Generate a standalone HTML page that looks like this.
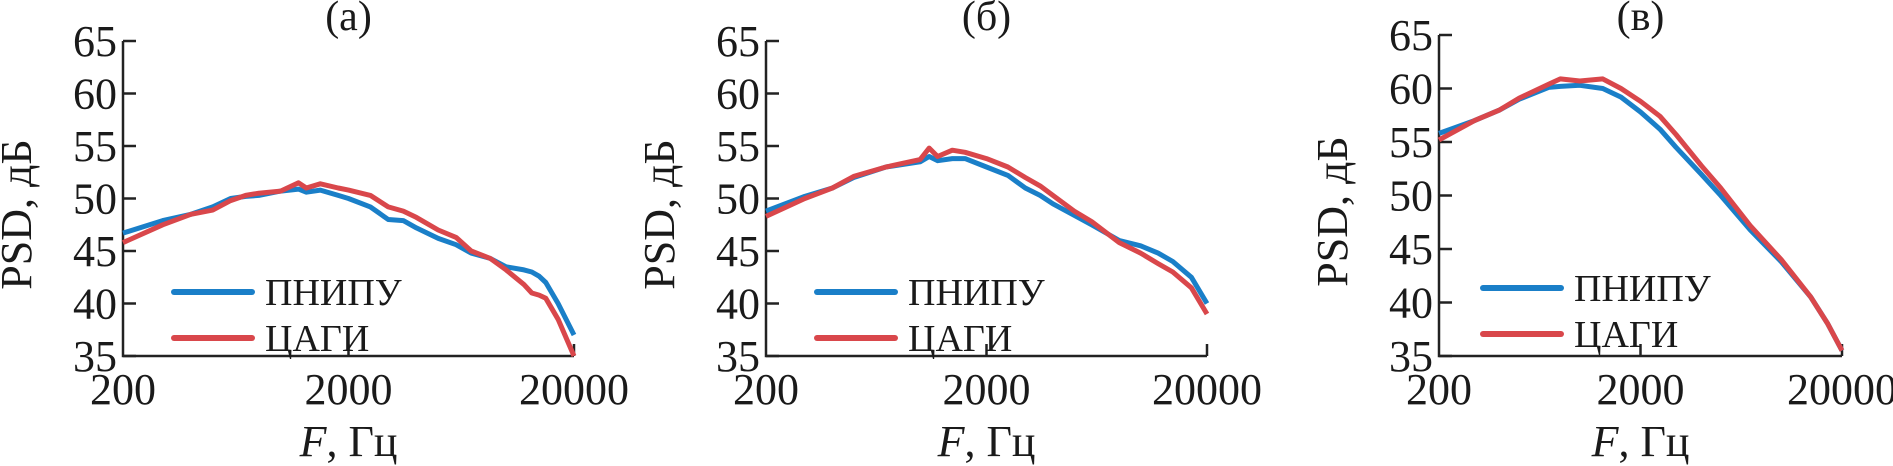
<!DOCTYPE html>
<html><head><meta charset="utf-8"><style>
html,body{margin:0;padding:0;background:#fff;}
svg{display:block;font-family:"Liberation Serif","DejaVu Serif",serif;}
</style></head><body>
<svg id="chart" width="1893" height="466" viewBox="0 0 1893 466"></svg>
<script>
const freqsA=[200,300,400,500,600,700,800,1000,1200,1300,1500,1800,2000,2500,3000,3500,4000,5000,6000,7000,8500,10000,12000,13000,14000,15000,17000,20000];
const blueA=[46.7,47.9,48.5,49.2,50.0,50.2,50.3,50.7,50.9,50.6,50.8,50.3,50.0,49.2,48.0,47.9,47.2,46.2,45.6,44.8,44.3,43.5,43.2,43.0,42.6,42.0,40.0,37.0];
const redA=[45.8,47.5,48.5,48.9,49.8,50.3,50.5,50.7,51.5,51.0,51.4,51.0,50.8,50.3,49.2,48.8,48.2,47.0,46.3,45.0,44.3,43.2,41.8,41.0,40.8,40.5,38.5,35.0];
const freqsB=[200,300,400,500,700,1000,1100,1200,1400,1600,2000,2500,3000,3500,4000,5000,6000,8000,10000,12000,14000,17000,20000];
const blueB=[48.8,50.2,51.0,52.0,53.0,53.5,54.0,53.6,53.8,53.8,53.0,52.2,51.0,50.3,49.5,48.4,47.5,46.0,45.5,44.8,44.0,42.5,40.0];
const redB=[48.3,50.0,51.0,52.1,53.0,53.7,54.8,54.0,54.6,54.4,53.8,53.0,52.0,51.2,50.3,48.8,47.8,45.8,44.8,43.8,43.0,41.5,39.0];
const freqsC=[200,300,400,500,700,800,1000,1300,1600,2000,2500,3000,4000,5000,7000,10000,14000,17000,20000];
const blueC=[55.8,57.0,58.0,59.0,60.1,60.2,60.3,60.0,59.2,57.8,56.2,54.5,52.0,50.0,46.8,43.8,40.5,38.0,35.5];
const redC=[55.2,57.0,58.0,59.1,60.4,60.9,60.7,60.9,60.0,58.8,57.4,55.7,52.8,50.7,47.2,44.0,40.5,38.0,35.5];
const yTicks=[35,40,45,50,55,60,65];
const xTicks=[200,2000,20000];
const titles=["(a)","(б)","(в)"];

const NS="http://www.w3.org/2000/svg";
const svg=document.getElementById('chart');
function mk(tag,attrs,parent){const e=document.createElementNS(NS,tag);for(const k in attrs)e.setAttribute(k,attrs[k]);(parent||svg).appendChild(e);return e;}

const panels=[
 {x0:123,x1:574,y0:41,y1:356,f:freqsA,b:blueA,r:redA,lx:51,ly:292},
 {x0:766,x1:1207,y0:41,y1:356,f:freqsB,b:blueB,r:redB,lx:51,ly:292},
 {x0:1439,x1:1842,y0:35,y1:356,f:freqsC,b:blueC,r:redC,lx:44,ly:288}
];
panels.forEach((p,i)=>{
 const g=mk('g',{});
 
 
 const xs=f=>p.x0+(Math.log10(f)-Math.log10(200))/2*(p.x1-p.x0);
 const ys=v=>p.y1-(v-35)/30*(p.y1-p.y0);
 const ax=mk('path',{d:`M${p.x0},${p.y0} V${p.y1} H${p.x1}`,fill:'none',stroke:'#222','stroke-width':2.5},g);
 
 
 yTicks.forEach(v=>{
  mk('line',{x1:p.x0,x2:p.x0+13,y1:ys(v),y2:ys(v),stroke:'#222','stroke-width':2.5},g);
  const t=mk('text',{x:p.x0-6,y:ys(v)+15,'text-anchor':'end','font-size':44,fill:'#1a1a1a'},g);
  t.textContent=v;
  
  
 });
 xTicks.forEach(v=>{
  if(v>200) mk('line',{x1:xs(v),x2:xs(v),y1:p.y1,y2:p.y1-12,stroke:'#222','stroke-width':2.5},g);
  const t=mk('text',{x:xs(v),y:p.y1+48,'text-anchor':'middle','font-size':44,fill:'#1a1a1a'},g);
  t.textContent=v;
  
  
 });
 const yt=mk('text',{transform:`translate(${p.x0-92},${(p.y0+p.y1)/2+16}) rotate(-90)`,'text-anchor':'middle','font-size':44,fill:'#1a1a1a'},g);
 yt.textContent='PSD, дБ';
 
 
 const xt=mk('text',{x:(p.x0+p.x1)/2,y:p.y1+100,'text-anchor':'middle','font-size':44,fill:'#1a1a1a'},g);
 xt.innerHTML='<tspan font-style="italic">F</tspan>, Гц';
 
 
 const tt=mk('text',{x:(p.x0+p.x1)/2,y:30,'text-anchor':'middle','font-size':42,fill:'#1a1a1a'},g);
 tt.textContent=titles[i];
 
 
 [[p.b,'#1a7fc8','pnipu-line'],[p.r,'#d9474b','tsagi-line']].forEach(([vals,c,n])=>{
  const d=vals.map((v,k)=>(k?'L':'M')+xs(p.f[k]).toFixed(1)+','+ys(v).toFixed(1)).join(' ');
  const l=mk('path',{d:d,fill:'none',stroke:c,'stroke-width':5,'stroke-linejoin':'round'},g);
  
  
 });
 [['ПНИПУ','#1a7fc8',0],['ЦАГИ','#d9474b',46]].forEach(([lab,c,dy])=>{
  const lg=mk('g',{},g);
  
  
  mk('line',{x1:p.x0+p.lx,x2:p.x0+p.lx+78,y1:p.ly+dy,y2:p.ly+dy,stroke:c,'stroke-width':6,'stroke-linecap':'round'},lg);
  const t=mk('text',{x:p.x0+p.lx+91,y:p.ly+dy+13,'font-size':38,fill:'#1a1a1a'},lg);
  t.textContent=lab;
 });
});
</script>
</body></html>
